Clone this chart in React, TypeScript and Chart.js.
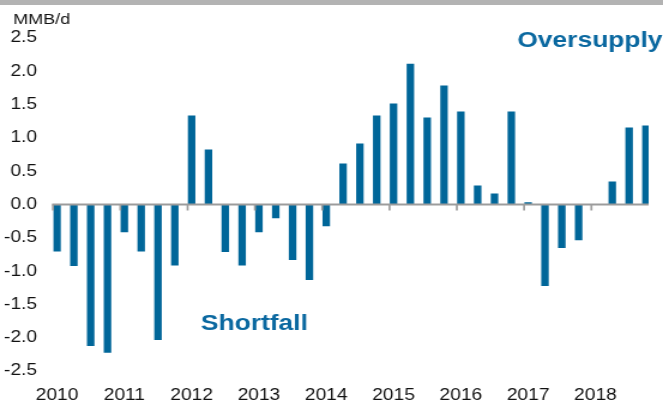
import React, { useEffect, useRef } from 'react';
import { Chart, registerables } from 'chart.js';

Chart.register(...registerables);

// ---- Data ----
const quarters = [
  '2010 Q1', '2010 Q2', '2010 Q3', '2010 Q4',
  '2011 Q1', '2011 Q2', '2011 Q3', '2011 Q4',
  '2012 Q1', '2012 Q2', '2012 Q3', '2012 Q4',
  '2013 Q1', '2013 Q2', '2013 Q3', '2013 Q4',
  '2014 Q1', '2014 Q2', '2014 Q3', '2014 Q4',
  '2015 Q1', '2015 Q2', '2015 Q3', '2015 Q4',
  '2016 Q1', '2016 Q2', '2016 Q3', '2016 Q4',
  '2017 Q1', '2017 Q2', '2017 Q3', '2017 Q4',
  '2018 Q1', '2018 Q2', '2018 Q3', '2018 Q4',
];
const supplyBalance = [
  -0.7, -0.92, -2.12, -2.22,
  -0.41, -0.7, -2.03, -0.91,
  1.33, 0.82, -0.71, -0.91,
  -0.41, -0.2, -0.83, -1.13,
  -0.32, 0.61, 0.91, 1.33,
  1.51, 2.11, 1.3, 1.78,
  1.39, 0.28, 0.16, 1.39,
  0.03, -1.22, -0.65, -0.53,
  0, 0.34, 1.15, 1.18,
];
const yearLabels = ['2010', '2011', '2012', '2013', '2014', '2015', '2016', '2017', '2018'];
const unitLabel = 'MMB/d';
const oversupplyLabel = 'Oversupply';
const shortfallLabel = 'Shortfall';

// ---- Styling ----
const CANVAS_W = 553;
const CANVAS_H = 404;
const DISPLAY_W = 663;
const FONT = '"Liberation Sans", Arial, Helvetica, sans-serif';
const BAR_COLOR = '#006699';
const TEXT_BLUE = '#0a68a0';
const AXIS_GRAY = '#9c9c9c';
const BAR_OFFSET = 0.06;

function quarterToX(q: string): number {
  const [yr, qq] = q.split(' Q');
  return Number(yr) + (Number(qq) - 1) / 4 + BAR_OFFSET;
}

const decorPlugin = {
  id: 'decor',
  beforeDraw(chart: any) {
    const { ctx } = chart;
    ctx.save();
    ctx.fillStyle = '#b3b3b3';
    ctx.fillRect(0, 0, chart.width, 5);
    ctx.restore();
  },
  afterDatasetsDraw(chart: any) {
    const { ctx } = chart;
    const xs = chart.scales.x;
    const ys = chart.scales.y;
    const y0 = ys.getPixelForValue(0);
    ctx.save();
    ctx.strokeStyle = AXIS_GRAY;
    ctx.lineWidth = 2;
    ctx.beginPath();
    ctx.moveTo(xs.getPixelForValue(xs.min) - 0.8, y0);
    ctx.lineTo(xs.getPixelForValue(xs.max), y0);
    ctx.stroke();
    ctx.lineWidth = 1.7;
    yearLabels.forEach((yr) => {
      const px = xs.getPixelForValue(Number(yr));
      ctx.beginPath();
      ctx.moveTo(px, y0);
      ctx.lineTo(px, y0 + 6);
      ctx.stroke();
    });

    ctx.textBaseline = 'alphabetic';
    ctx.textAlign = 'left';
    ctx.fillStyle = '#111111';
    ctx.font = `15px ${FONT}`;
    ctx.fillText(unitLabel, 11.1, 24);

    ctx.fillStyle = TEXT_BLUE;
    ctx.font = `bold 22px ${FONT}`;
    ctx.fillText(oversupplyLabel, 431.5, 47);
    ctx.fillText(shortfallLabel, 167.6, 330);
    ctx.restore();
  },
};

export default function App() {
  const canvasRef = useRef<HTMLCanvasElement | null>(null);

  useEffect(() => {
    const canvas = canvasRef.current;
    if (!canvas) return;
    const points = quarters.map((q, i) => ({ x: quarterToX(q), y: supplyBalance[i] }));
    const chart = new Chart(canvas, {
      type: 'bar',
      data: {
        datasets: [
          {
            data: points as any,
            backgroundColor: BAR_COLOR,
            borderWidth: 0,
            barThickness: 5.6,
          },
        ],
      },
      options: {
        responsive: false,
        animation: false,
        devicePixelRatio: 1,
        layout: { padding: { top: 38, left: 0, right: 12, bottom: 0 } },
        plugins: {
          legend: { display: false },
          tooltip: { enabled: false },
          title: { display: false },
        },
        scales: {
          x: {
            type: 'linear',
            min: 2010,
            max: 2018.85,
            bounds: 'data',
            offset: false,
            grid: { display: false, drawTicks: false },
            border: { display: false },
            afterBuildTicks: (s: any) => {
              s.ticks = yearLabels.map((y) => ({ value: Number(y) + BAR_OFFSET }));
            },
            afterFit: (s: any) => {
              s.height = 33;
            },
            ticks: {
              color: '#111111',
              font: { family: FONT, size: 16 },
              padding: 14.6,
              maxRotation: 0,
              autoSkip: false,
              callback: (_v: any, i: number) => yearLabels[i],
            },
          },
          y: {
            min: -2.5,
            max: 2.5,
            grid: { display: false, drawTicks: false },
            border: { display: false },
            afterFit: (s: any) => {
              s.width = 44.2;
            },
            ticks: {
              stepSize: 0.5,
              color: '#111111',
              font: { family: FONT, size: 16 },
              padding: 13.3,
              callback: (v: any) => Number(v).toFixed(1),
            },
          },
        },
      } as any,
      plugins: [decorPlugin],
    });
    return () => chart.destroy();
  }, []);

  return (
    <div style={{ position: 'fixed', left: 0, top: 0, width: DISPLAY_W, height: CANVAS_H, background: '#ffffff' }}>
      <canvas
        ref={canvasRef}
        width={CANVAS_W}
        height={CANVAS_H}
        style={{ width: `${DISPLAY_W}px`, height: `${CANVAS_H}px`, display: 'block' }}
      />
    </div>
  );
}
